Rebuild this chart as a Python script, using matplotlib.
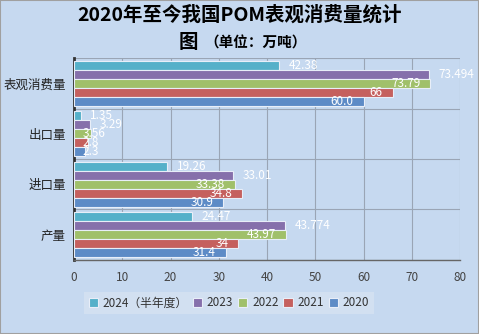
import matplotlib.pyplot as plt
import numpy as np

plt.rcParams['font.family'] = ['Noto Sans CJK SC', 'DejaVu Sans']

categories = ['表观消费量', '出口量', '进口量', '产量']
years = ['2024（半年度）', '2023', '2022', '2021', '2020']
v2024 = [42.38, 1.35, 19.26, 24.47]
v2023 = [73.494, 3.29, 33.01, 43.774]
v2022 = [73.79, 3.56, 33.38, 43.97]
v2021 = [66, 2.8, 34.8, 34]
v2020 = [60.0, 2.3, 30.9, 31.4]
labels2024 = ['42.38', '1.35', '19.26', '24.47']
labels2023 = ['73.494', '3.29', '33.01', '43.774']
labels2022 = ['73.79', '3.56', '33.38', '43.97']
labels2021 = ['66', '2.8', '34.8', '34']
labels2020 = ['60.0', '2.3', '30.9', '31.4']

series = [v2024, v2023, v2022, v2021, v2020]
series_labels = [labels2024, labels2023, labels2022, labels2021, labels2020]
colors = ['#55b0c9', '#8670ab', '#a0c06a', '#c5605e', '#5d8bc6']
outside = [True, True, False, False, False]

bg = '#c6d9f0'
fig = plt.figure(figsize=(4.79, 3.34), dpi=100, facecolor=bg)
fig.patches.append(plt.Rectangle((0, 0), 1, 1, transform=fig.transFigure,
                                 fill=False, edgecolor='#a0a0a0', lw=1.5))
ax = fig.add_axes([0.1545, 0.222, 0.806, 0.604])
ax.set_facecolor(bg)

h = 0.178
y = np.arange(len(categories))
lab_kw = dict(va='center', color='white', fontsize=8.5, fontweight='medium', zorder=4)
for j, (vals, labs) in enumerate(zip(series, series_labels)):
    ys = y + (j - 2) * h
    ax.barh(ys, vals, height=h, color=colors[j], edgecolor='#e8eef8',
            linewidth=0.8, label=years[j], zorder=3)
    for yy, v, t in zip(ys, vals, labs):
        if outside[j]:
            ax.annotate(t, (v, yy), xytext=(7, 0), textcoords='offset points',
                        ha='left', **lab_kw)
        elif v < 10:
            ax.annotate(t, (0, yy), xytext=(6, 0), textcoords='offset points',
                        ha='left', **lab_kw)
        else:
            ax.annotate(t, (v, yy), xytext=(-7, 0), textcoords='offset points',
                        ha='right', **lab_kw)

ax.set_ylim(3.5, -0.5)
ax.set_xlim(0, 80)
ax.set_xticks(range(0, 81, 10))
ax.set_yticks(y)
ax.set_yticklabels(categories, fontsize=9, color='#222222')
ax.set_yticks([-0.5, 0.5, 1.5, 2.5, 3.5], minor=True)
ax.tick_params(axis='y', which='both', length=0, pad=6)
ax.tick_params(axis='x', labelsize=8.5, colors='#444444', length=0, pad=8)
ax.grid(axis='x', color='#9aa5b5', lw=0.8, zorder=0)
ax.grid(axis='y', which='minor', color='#9aa5b5', lw=0.8, zorder=0)
for s in ['top', 'right']:
    ax.spines[s].set_visible(False)
ax.spines['left'].set_color('#333333')
ax.spines['left'].set_linewidth(2)
ax.spines['bottom'].set_color('#666666')
ax.spines['bottom'].set_linewidth(1)

fig.text(0.5, 0.955, '2020年至今我国POM表观消费量统计', ha='center', va='center',
         fontsize=14, fontweight='bold')
fig.text(0.393, 0.872, '图', ha='center', va='center', fontsize=14, fontweight='bold')
fig.text(0.533, 0.872, '（单位：万吨）', ha='center', va='center', fontsize=10.5, fontweight='bold')

leg = fig.legend(loc='center', bbox_to_anchor=(0.478, 0.093), ncol=5, fontsize=8.5,
                 frameon=True, handlelength=0.8, handleheight=0.8, handletextpad=0.4,
                 columnspacing=0.4, borderpad=0.4, fancybox=False)
leg.get_frame().set_facecolor('#d6e2f2')
leg.get_frame().set_edgecolor('none')
for t in leg.get_texts():
    t.set_color('#333333')

fig.savefig('out.png', dpi=100, facecolor=bg)
